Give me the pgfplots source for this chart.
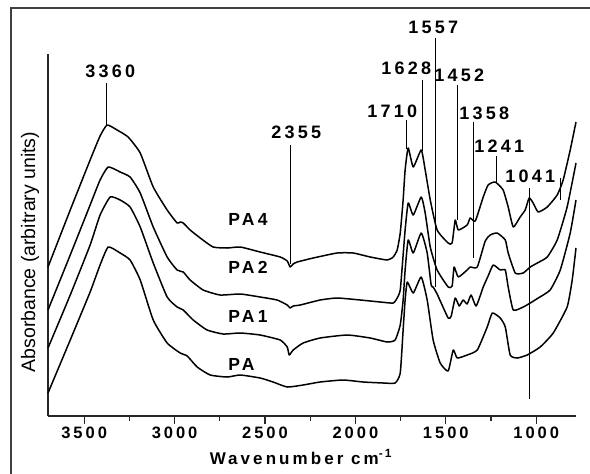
\documentclass[border=0pt]{standalone}
\usepackage{fontspec}
\setmainfont{Liberation Sans}
\newfontfamily\lsp[LetterSpace=18]{Liberation Sans}
\usepackage{pgfplots}
\pgfplotsset{compat=1.18}
\begin{document}
\begin{tikzpicture}
\path[use as bounding box] (0,0) rectangle (590bp,-474bp);
\begin{axis}[
  at={(48bp,-416bp)}, anchor=south west,
  scale only axis, width=528bp, height=362bp,
  x dir=reverse, xmin=780, xmax=3700, ymin=0, ymax=362,
  enlargelimits=false, clip=false,
  axis x line*=bottom, axis y line*=left,
  axis line style={-, line width=1.2bp, black!85},
  xtick={1000,1500,2000,2500,3000,3500},
  xticklabels={1000,1500,2000,2500,3000,3500},
  minor xtick={1250,1750,2250,2750,3250},
  ytick=\empty,
  tick align=outside,
  major tick length=7.5bp, minor tick length=5bp,
  every tick/.style={line width=1.2bp, black!85},
  xticklabel style={font=\lsp\bfseries\fontsize{16.5bp}{18bp}\selectfont},
  xlabel={Wavenumber cm\textsuperscript{-1}},
  ylabel={Absorbance (arbitrary units)},
  every axis x label/.style={at={(axis description cs:0.479,-0.1326)}, anchor=base, font=\lsp\bfseries\fontsize{17bp}{19bp}\selectfont},
  every axis y label/.style={at={(axis description cs:-0.0246,0.453)}, rotate=90, anchor=base, font=\fontsize{19.5bp}{21bp}\selectfont},
  spec/.style={black, line width=1.5bp, line join=round, mark=none, smooth, tension=0.3},
]
% PA4
\addplot[spec] coordinates {(3700,149)(3577,206)(3467,256)(3412,280)(3373,291)(3318,286)(3257,279)(3190,263)(3118,229)(3041,206)(2986,193)(2969,194)(2952,193)(2914,186)(2858,178)(2787,169)(2709,168)(2637,169)(2527,164)(2416,159)(2377,155)(2361,149)(2344,152)(2322,154)(2233,158)(2101,163)(2012,163)(1918,159)(1824,156)(1791,159)(1769,166)(1752,183)(1736,216)(1725,246)(1708,268)(1680,249)(1636,266)(1614,246)(1586,216)(1548,186)(1487,173)(1465,173)(1448,196)(1431,186)(1382,191)(1365,198)(1337,195)(1293,219)(1266,231)(1227,234)(1183,226)(1155,209)(1127,189)(1089,199)(1061,206)(1039,218)(1017,213)(989,204)(939,209)(884,221)(851,236)(812,266)(780,294)};
% PA2
\addplot[spec] coordinates {(3700,106)(3577,161)(3467,211)(3412,236)(3367,249)(3301,244)(3246,239)(3190,223)(3118,189)(3041,159)(2986,146)(2952,144)(2914,136)(2842,126)(2748,121)(2637,122)(2527,119)(2433,116)(2377,111)(2361,108)(2344,110)(2305,111)(2195,116)(2101,118)(1973,116)(1863,114)(1791,113)(1769,118)(1752,126)(1736,161)(1725,186)(1708,213)(1680,201)(1636,219)(1614,203)(1586,169)(1548,146)(1487,129)(1465,130)(1454,149)(1431,139)(1382,146)(1365,149)(1326,149)(1282,175)(1254,181)(1216,183)(1171,176)(1155,163)(1116,143)(1072,143)(1033,149)(994,153)(939,159)(884,176)(829,209)(780,253)};
% PA1
\addplot[spec] coordinates {(3700,68)(3577,121)(3467,171)(3412,201)(3356,219)(3301,216)(3246,209)(3190,189)(3118,153)(3041,119)(2986,109)(2952,106)(2897,96)(2820,86)(2731,82)(2637,83)(2527,81)(2416,76)(2377,69)(2366,61)(2344,66)(2289,73)(2195,78)(2045,81)(1918,78)(1824,74)(1780,76)(1752,91)(1736,116)(1725,146)(1708,176)(1680,163)(1636,183)(1603,163)(1581,131)(1570,129)(1548,122)(1487,98)(1470,100)(1448,118)(1426,110)(1404,116)(1382,112)(1360,121)(1332,110)(1293,129)(1266,140)(1238,151)(1199,146)(1171,146)(1155,129)(1127,106)(1072,109)(1033,113)(989,118)(923,126)(867,146)(812,183)(780,216)};
% PA
\addplot[spec] coordinates {(3700,23)(3577,76)(3467,124)(3412,151)(3367,169)(3301,163)(3246,156)(3190,136)(3118,96)(3041,73)(2969,63)(2930,60)(2875,49)(2803,41)(2709,39)(2637,41)(2527,38)(2455,34)(2377,29)(2289,31)(2195,34)(2068,36)(1957,34)(1846,33)(1780,33)(1752,43)(1736,86)(1725,116)(1713,134)(1680,123)(1636,139)(1603,116)(1570,76)(1531,53)(1487,45)(1459,66)(1437,58)(1382,61)(1326,66)(1271,89)(1243,103)(1199,98)(1171,89)(1144,61)(1105,58)(1050,61)(978,69)(906,83)(829,109)(801,136)(780,168)};
% peak markers
\draw[line width=0.9bp, black] (axis cs:3375,333) -- (axis cs:3375,291);
\draw[line width=0.9bp, black] (axis cs:2361,271) -- (axis cs:2361,152);
\draw[line width=0.9bp, black] (axis cs:1715,296) -- (axis cs:1715,267);
\draw[line width=0.9bp, black] (axis cs:1631,336) -- (axis cs:1631,265);
\draw[line width=0.9bp, black] (axis cs:1559,378) -- (axis cs:1559,129);
\draw[line width=0.9bp, black] (axis cs:1437,331) -- (axis cs:1437,196);
\draw[line width=0.9bp, black] (axis cs:1348,294) -- (axis cs:1348,158);
\draw[line width=0.9bp, black] (axis cs:1221,260) -- (axis cs:1221,234);
\draw[line width=0.9bp, black] (axis cs:1039,228) -- (axis cs:1039,17);
\draw[line width=0.9bp, black] (axis cs:867,238) -- (axis cs:867,216);
\tikzset{pk/.style={anchor=base, inner sep=0pt, font=\lsp\bfseries\fontsize{18bp}{20bp}\selectfont}}
\node[pk] at (axis cs:3356,339) {3360};
\node[pk] at (axis cs:2327,278) {2355};
\node[pk] at (axis cs:1796,299) {1710};
\node[pk] at (axis cs:1719,342) {1628};
\node[pk] at (axis cs:1570,383) {1557};
\node[pk] at (axis cs:1426,335) {1452};
\node[pk] at (axis cs:1288,297) {1358};
\node[pk] at (axis cs:1205,264) {1241};
\node[pk] at (axis cs:1033,234) {1041};
\tikzset{sl/.style={anchor=base west, inner sep=0pt, font=\lsp\bfseries\fontsize{17.5bp}{19bp}\selectfont}}
\node[sl] at (axis cs:2703,191) {PA4};
\node[sl] at (axis cs:2703,143) {PA2};
\node[sl] at (axis cs:2703,94) {PA1};
\node[sl] at (axis cs:2703,46) {PA};
\end{axis}
\draw[line width=1.5bp, black!75] (11bp,-474bp) -- (11bp,-8bp) -- (590bp,-8bp);
\end{tikzpicture}
\end{document}
